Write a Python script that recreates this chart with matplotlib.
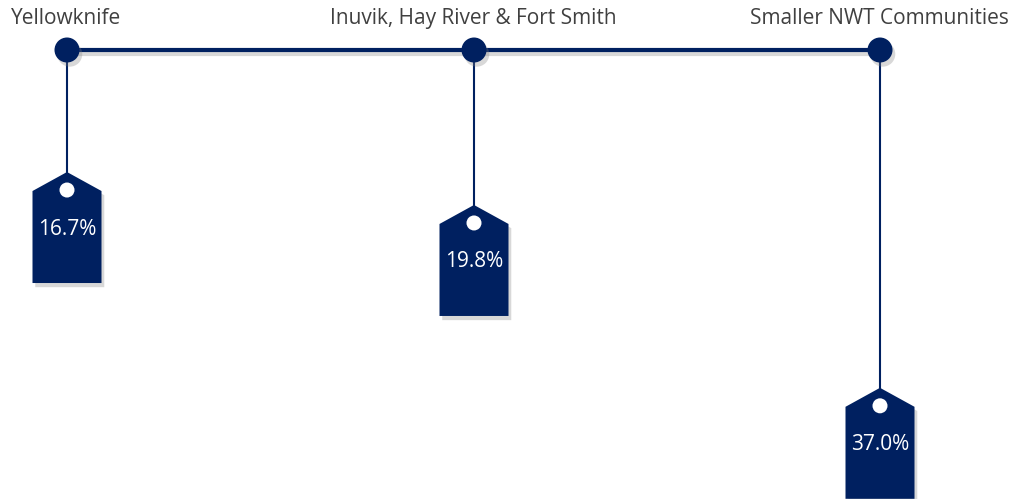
import matplotlib.pyplot as plt
import matplotlib.patheffects as pe
from matplotlib.patches import Polygon, Circle

groups = ['Yellowknife', 'Inuvik, Hay River & Fort Smith', 'Smaller NWT Communities']
values = [16.7, 19.8, 37.0]

navy = '#002060'
W, H = 1017, 499
xs = [67, 474, 880]
line_y = 50
# pixels per percentage point, top of tag sits at scale*value + offset
scale, offset = 10.63, -5.5

plt.rcParams['font.family'] = ['Open Sans', 'DejaVu Sans']
fig = plt.figure(figsize=(W / 100, H / 100), dpi=100)
ax = fig.add_axes([0, 0, 1, 1])
ax.set_xlim(0, W)
ax.set_ylim(H, 0)
ax.axis('off')

shadow = [pe.SimplePatchShadow(offset=(2, -3), shadow_rgbFace='#7f7f7f', alpha=0.3), pe.Normal()]
lshadow = [pe.SimpleLineShadow(offset=(2, -3), shadow_color='#7f7f7f', alpha=0.3), pe.Normal()]

ax.plot([xs[0], xs[-1]], [line_y, line_y], color=navy, lw=3, solid_capstyle='butt',
        path_effects=lshadow, zorder=2)

hw, roof, body = 34.5, 19, 92
for x, name, v in zip(xs, groups, values):
    top = scale * v + offset
    ax.plot([x, x], [line_y, top], color=navy, lw=1.5, zorder=1)
    tag = Polygon([(x, top), (x + hw, top + roof), (x + hw, top + roof + body),
                   (x - hw, top + roof + body), (x - hw, top + roof)],
                  closed=True, fc=navy, ec='none', zorder=3, path_effects=shadow)
    ax.add_patch(tag)
    ax.add_patch(Circle((x, top + 18), 7.5, fc='white', ec='none', zorder=4))
    ax.text(x, top + 57, f'{v:.1f}%', color='white', ha='center', va='center',
            fontsize=15, zorder=5)
    ax.add_patch(Circle((x, line_y), 12.5, fc=navy, ec='none', zorder=4, path_effects=shadow))
    ax.text(x - 1, 18, name, color='#404040', ha='center', va='center', fontsize=15)

fig.savefig('out.png', dpi=100)
